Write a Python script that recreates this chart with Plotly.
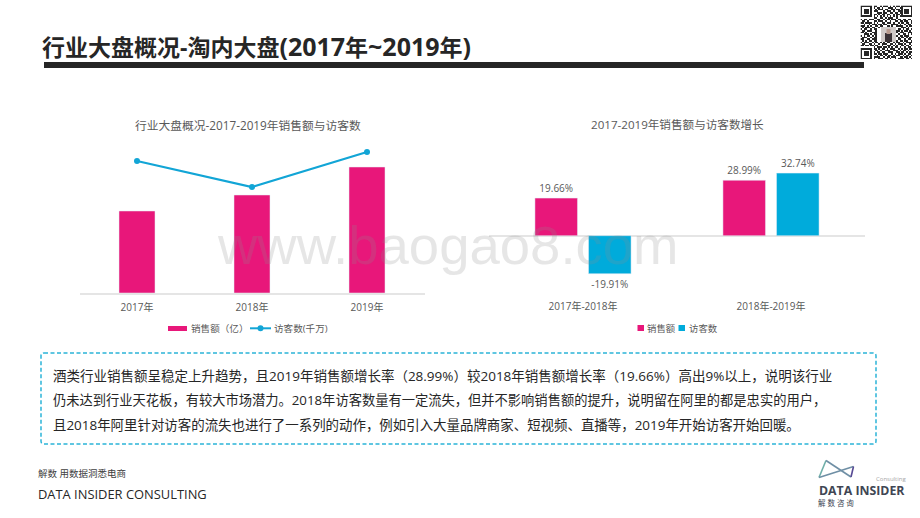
import plotly.graph_objects as go

FONT = "Open Sans, Noto Sans CJK SC, sans-serif"
W, H = 920, 518

# left chart, values
years = ["2017年", "2018年", "2019年"]
sales = [82, 98, 126]
visitors = [132, 106, 141]

# right chart
periods = ["2017年-2018年", "2018年-2019年"]
sales_growth = [19.66, 28.99]
visitor_growth = [-19.91, 32.74]

PINK = "#E8177A"
BLUE = "#00ABDB"
LINE_BLUE = "#12A5D6"
GREY = "#595959"

note_lines = [
    "酒类行业销售额呈稳定上升趋势，且2019年销售额增长率（28.99%）较2018年销售额增长率（19.66%）高出9%以上，说明该行业",
    "仍未达到行业天花板，有较大市场潜力。2018年访客数量有一定流失，但并不影响销售额的提升，说明留在阿里的都是忠实的用户，",
    "且2018年阿里针对访客的流失也进行了一系列的动作，例如引入大量品牌商家、短视频、直播等，2019年开始访客开始回暖。",
]

# rough look of the qr code in the corner, the middle stays white for the portrait
qr_rows = [
    "1111111011001011101010110 1111111",
    "1000001010110100011101001 1000001",
    "1011101001011101100110110 1011101",
    "1011101011100010111010011 1011101",
    "1011101000111011001101101 1011101",
    "1000001011010110110010110 1000001",
    "1111111010101010101010101 1111111",
    "0000000011001101011100100 0000000",
    "1011011100110010110111011 0110110",
    "0110100011011101001001101 1011001",
    "1101111010100110111010010 1101101",
    "0010010111011011000111101 0010110",
    "1110101001101100110100111 1001011",
    "0101110110010111011011000 1110100",
    "1011001011000000000000011 0101101",
    "0110111001000000000000110 1011010",
    "1101000111000000000000101 1100111",
    "0011101011000000000000010 0110101",
    "1010110101000000000000101 1011100",
    "0111001011000000000000010 1101011",
    "1100110111000000000000011 0010110",
    "0101011011000000000000101 1011001",
    "1011100101101010110010110 0101111",
    "0110011010010111001101011 1010010",
    "1101101101100100111010100 1101101",
    "0000000010111011010101101 0010110",
    "1111111011010110101110010 1011011",
    "1000001001101001110011101 0110100",
    "1011101010110110011100110 1101011",
    "1011101011011011100101011 1010110",
    "1011101000101101011010110 0101101",
    "1000001011110010110111001 1011010",
    "1111111010011101101001011 1101101",
]
qr_z = [[int(c) for c in row.replace(" ", "")] for row in qr_rows]


def fx(px):
    return px / W


def fy(px):
    return 1 - px / H


def label(text, x, y, size, color=GREY, anchor="left", bold=False, font=FONT):
    # annotations keep about 2px of padding on the left
    if anchor == "left":
        x -= 2
    return dict(
        text=f"<b>{text}</b>" if bold else text,
        x=fx(x), y=fy(y), xref="paper", yref="paper",
        xanchor=anchor, yanchor="middle", showarrow=False,
        font=dict(family=font, size=size, color=color),
    )


def rect(x0, y0, x1, y1, color):
    return dict(type="rect", xref="paper", yref="paper", x0=fx(x0), x1=fx(x1),
                y0=fy(y0), y1=fy(y1), fillcolor=color, line=dict(width=0), layer="above")


def seg(x0, y0, x1, y1, color, width=1.5):
    return dict(type="line", xref="paper", yref="paper", x0=fx(x0), x1=fx(x1),
                y0=fy(y0), y1=fy(y1), line=dict(color=color, width=width))


def rounded_box(x0, y0, x1, y1, r):
    a0, a1 = fx(x0), fx(x1)
    b0, b1 = fy(y0), fy(y1)
    rx, ry = r / W, r / H
    return (f"M{a0 + rx},{b0} L{a1 - rx},{b0} Q{a1},{b0} {a1},{b0 - ry} "
            f"L{a1},{b1 + ry} Q{a1},{b1} {a1 - rx},{b1} "
            f"L{a0 + rx},{b1} Q{a0},{b1} {a0},{b1 + ry} "
            f"L{a0},{b0 - ry} Q{a0},{b0} {a0 + rx},{b0} Z")


fig = go.Figure()

fig.add_bar(x=years, y=sales, name="销售额（亿）", marker_color=PINK, width=0.313,
            xaxis="x", yaxis="y", showlegend=False)
fig.add_scatter(x=years, y=visitors, name="访客数(千万)", mode="lines+markers",
                line=dict(color=LINE_BLUE, width=2.2), marker=dict(size=6, color=LINE_BLUE),
                xaxis="x", yaxis="y2", showlegend=False)

fig.add_bar(x=periods, y=sales_growth, name="销售额", marker_color=PINK,
            text=[f"{v:.2f}%" for v in sales_growth], textposition="outside",
            textfont=dict(family=FONT, size=10, color=GREY), cliponaxis=False,
            xaxis="x2", yaxis="y3", showlegend=False)
fig.add_bar(x=periods, y=visitor_growth, name="访客数", marker_color=BLUE,
            text=[f"{v:.2f}%" for v in visitor_growth], textposition="outside",
            textfont=dict(family=FONT, size=10, color=GREY), cliponaxis=False,
            xaxis="x2", yaxis="y3", showlegend=False)

fig.add_heatmap(z=qr_z, colorscale=[[0, "white"], [1, "#262626"]], showscale=False,
                hoverinfo="skip", xaxis="x3", yaxis="y4")

tick_font = dict(family=FONT, size=10, color=GREY)

shapes = [
    rect(44, 62, 864, 68, "#262626"),
    dict(type="path", xref="paper", yref="paper", path=rounded_box(41, 353, 876, 444, 3),
         line=dict(color="#2BB4D8", width=1.5, dash="4px,2.5px")),
    # qr portrait
    rect(881, 27, 896, 42, "#cfcac8"),
    rect(885, 33, 892, 42, "#3a3236"),
    rect(886.5, 29, 890.5, 34, "#b89a8e"),
    # legend keys left
    rect(168, 326, 187, 331, PINK),
    seg(250, 328.3, 271, 328.3, LINE_BLUE, 2),
    dict(type="circle", xref="paper", yref="paper", x0=fx(257.5), x1=fx(263.5),
         y0=fy(325.3), y1=fy(331.3), fillcolor=LINE_BLUE, line=dict(width=0)),
    # legend keys right
    rect(637.5, 325, 644, 331, PINK),
    rect(678.5, 325, 685, 331, BLUE),
    # logo
    seg(819, 477.5, 826, 460.5, "#6FAFA9", 1.6),
    seg(826, 460.5, 851, 477, "#6F8FA5", 1.6),
    seg(819, 477.5, 853.5, 466.5, "#6F8FA5", 1.6),
    seg(853.5, 466.5, 851, 477, "#574A94", 1.6),
]

annotations = [
    label("行业大盘概况-淘内大盘<span style='font-size:25px'>(2017</span>年"
          "<span style='font-size:25px'>~2019</span>年<span style='font-size:25px'>)</span>",
          42, 46, 23, "#262626", bold=True),
    label("行业大盘概况-2017-2019年销售额与访客数", 248, 125, 11.75, anchor="center"),
    label("2017-2019年销售额与访客数增长", 677, 125, 11.6, anchor="center"),
    label("销售额（亿）", 191, 328, 9.6),
    label("访客数(千万)", 274, 328, 9.6),
    label("销售额", 647, 328, 9.4),
    label("访客数", 689, 328, 9.4),
    label(note_lines[0], 53, 376, 13.5, "#262626"),
    label(note_lines[1], 53, 400, 13.27, "#262626"),
    label(note_lines[2], 53, 425, 13.45, "#262626"),
    label("解数 用数据洞悉电商", 38, 473, 9.5, "#404040"),
    label("DATA INSIDER CONSULTING", 38, 494, 12.9, "#262626"),
    label("Consulting", 890.7, 478.5, 6, "#a6a6a6", anchor="center"),
    label("DATA INSIDER", 818.5, 490.5, 12.3, "#404653", bold=True),
    label("解 数 咨 询", 818, 503, 7.5, "#404653"),
    # watermark sits over the bars
    label("www.baogao8.com", 447, 245, 54.5, "rgba(140,140,140,0.22)", anchor="center",
          font="Liberation Sans, Arial, sans-serif"),
]

fig.update_layout(
    width=W, height=H,
    margin=dict(l=0, r=0, t=0, b=0),
    paper_bgcolor="white", plot_bgcolor="white",
    barmode="group", bargap=0.43, bargroupgap=0.206,
    showlegend=False,
    font=dict(family=FONT, color=GREY),
    xaxis=dict(domain=[fx(79.5), fx(424.5)], anchor="y", showgrid=False, showline=True,
               linecolor="#E5E5E5", linewidth=1.5, ticks="outside", ticklen=4,
               tickcolor="rgba(0,0,0,0)", tickfont=tick_font),
    yaxis=dict(domain=[fy(293), fy(143)], range=[0, 150], visible=False),
    yaxis2=dict(domain=[fy(293), fy(143)], range=[0, 150], visible=False,
                overlaying="y", side="right"),
    xaxis2=dict(domain=[fx(489), fx(865)], anchor="y3", showgrid=False, showline=False,
                ticks="outside", ticklen=4, tickcolor="rgba(0,0,0,0)", tickfont=tick_font),
    yaxis3=dict(domain=[fy(293), fy(143)], range=[-30, 48.5], visible=True, showgrid=False,
                showticklabels=False, ticks="", zeroline=True, zerolinecolor="#E5E5E5",
                zerolinewidth=1.5, anchor="x2"),
    xaxis3=dict(domain=[fx(860.5), fx(912)], anchor="y4", visible=False),
    yaxis4=dict(domain=[fy(59), fy(5.5)], anchor="x3", visible=False, autorange="reversed"),
    shapes=shapes,
    annotations=annotations,
)

fig.write_html("out.html", config=dict(displayModeBar=False),
               post_script="document.body.style.margin='0';")
